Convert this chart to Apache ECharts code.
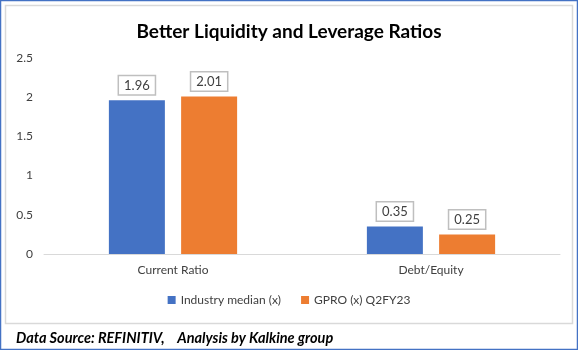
<!DOCTYPE html>
<html>
<head>
<meta charset="utf-8">
<script src="https://cdn.jsdelivr.net/npm/echarts@6/dist/echarts.min.js"></script>
<style>
  html, body { margin: 0; padding: 0; background: #fff; }
  #chart { width: 578px; height: 350px; }
</style>
</head>
<body>
<div id="chart"></div>
<script>
var categories = ['Current Ratio', 'Debt/Equity'];
var industryMedian = [1.96, 0.35];
var gpro = [2.01, 0.25];
var seriesNames = ['Industry median (x)', 'GPRO (x) Q2FY23'];

var font = 'Lato, "Open Sans", sans-serif';

var labelBox = {
  show: true,
  position: 'top',
  distance: 6,
  color: '#404040',
  fontSize: 13,
  fontFamily: font,
  backgroundColor: '#fff',
  borderColor: '#bfbfbf',
  borderWidth: 1.5,
  padding: [3, 5, 2, 5],
  formatter: function (p) { return p.value.toFixed(2); }
};

var myChart = echarts.init(document.getElementById('chart'));
myChart.setOption({
  backgroundColor: '#fff',
  animation: false,
  title: {
    text: 'Better Liquidity and Leverage Ratios',
    left: 'center',
    top: 17,
    textStyle: { fontFamily: font, fontWeight: 'bold', fontSize: 19, color: '#000' }
  },
  graphic: [
    { type: 'rect', shape: { x: 0.5, y: 0.5, width: 577, height: 349 }, style: { fill: 'none', stroke: '#4472c4', lineWidth: 1.5 }, silent: true },
    { type: 'rect', shape: { x: 5.5, y: 5.5, width: 567, height: 318 }, style: { fill: 'none', stroke: '#d9d9d9', lineWidth: 1.5 }, silent: true },
    { type: 'text', left: 16, top: 331, style: { text: 'Data Source: REFINITIV,    Analysis by Kalkine group', font: 'italic bold 14.5px ' + font, fill: '#000' } }
  ],
  legend: {
    bottom: 39,
    left: 'center',
    itemWidth: 8,
    itemHeight: 8,
    itemGap: 20,
    icon: 'rect',
    textStyle: { fontFamily: font, fontSize: 12, color: '#404040' },
    data: seriesNames
  },
  grid: { left: 44, right: 18, top: 58, bottom: 96 },
  xAxis: {
    type: 'category',
    data: categories,
    axisLine: { lineStyle: { color: '#d9d9d9', width: 1 } },
    axisTick: { show: false },
    axisLabel: { fontFamily: font, fontSize: 12, color: '#404040', margin: 10 }
  },
  yAxis: {
    type: 'value',
    min: 0,
    max: 2.5,
    interval: 0.5,
    splitLine: { show: false },
    axisLine: { show: false },
    axisTick: { show: false },
    axisLabel: { fontFamily: font, fontSize: 12, color: '#404040', margin: 11 }
  },
  series: [
    {
      name: seriesNames[0],
      type: 'bar',
      data: industryMedian,
      barWidth: 56,
      barGap: '29%',
      itemStyle: { color: '#4472c4' },
      label: labelBox
    },
    {
      name: seriesNames[1],
      type: 'bar',
      data: gpro,
      barWidth: 56,
      itemStyle: { color: '#ed7d31' },
      label: labelBox
    }
  ]
});
</script>
</body>
</html>
